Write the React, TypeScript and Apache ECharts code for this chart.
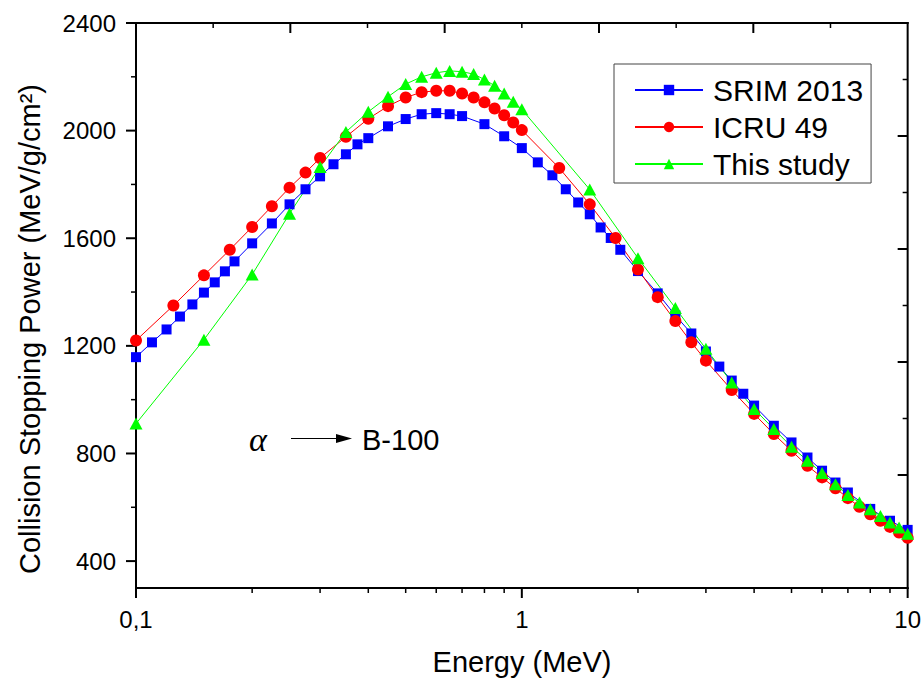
import React, { useEffect, useRef } from 'react';
import * as echarts from 'echarts';

const srimEnergy = [0.1, 0.11, 0.12, 0.13, 0.14, 0.15, 0.16, 0.17, 0.18, 0.2, 0.225, 0.25, 0.275, 0.3, 0.325, 0.35, 0.375, 0.4, 0.45, 0.5, 0.55, 0.6, 0.65, 0.7, 0.8, 0.9, 1.0, 1.1, 1.2, 1.3, 1.4, 1.5, 1.6, 1.7, 1.8, 2.0, 2.25, 2.5, 2.75, 3.0, 3.25, 3.5, 3.75, 4, 4.5, 5, 5.5, 6, 6.5, 7, 8, 9, 10];
const srimPower = [1158, 1213, 1261, 1309, 1354, 1398, 1436, 1477, 1514, 1581, 1655, 1726, 1782, 1830, 1875, 1912, 1949, 1972, 2016, 2043, 2061, 2065, 2061, 2054, 2024, 1979, 1935, 1882, 1834, 1782, 1733, 1689, 1640, 1601, 1557, 1478, 1395, 1313, 1246, 1179, 1123, 1071, 1022, 978, 903, 841, 785, 736, 692, 655, 594, 550, 516];

const icruEnergy = [0.1, 0.125, 0.15, 0.175, 0.2, 0.225, 0.25, 0.275, 0.3, 0.35, 0.4, 0.45, 0.5, 0.55, 0.6, 0.65, 0.7, 0.75, 0.8, 0.85, 0.9, 0.95, 1.0, 1.25, 1.5, 1.75, 2, 2.25, 2.5, 2.75, 3, 3.5, 4, 4.5, 5, 5.5, 6, 6.5, 7, 7.5, 8, 8.5, 9, 9.5, 10];
const icruPower = [1220, 1350, 1462, 1557, 1642, 1719, 1788, 1844, 1898, 1977, 2044, 2091, 2123, 2143, 2148, 2148, 2138, 2123, 2105, 2082, 2057, 2030, 2002, 1861, 1726, 1601, 1484, 1381, 1292, 1213, 1145, 1036, 947, 872, 810, 754, 711, 671, 634, 602, 574, 550, 527, 506, 487];

const studyEnergy = [0.1, 0.15, 0.2, 0.25, 0.3, 0.35, 0.4, 0.45, 0.5, 0.55, 0.6, 0.65, 0.7, 0.75, 0.8, 0.85, 0.9, 0.95, 1.0, 1.5, 2, 2.5, 3, 3.5, 4, 4.5, 5, 5.5, 6, 6.5, 7, 7.5, 8, 8.5, 9, 9.5, 10];
const studyPower = [911, 1223, 1465, 1691, 1865, 1995, 2070, 2126, 2173, 2200, 2215, 2222, 2219, 2210, 2190, 2167, 2138, 2107, 2079, 1781, 1526, 1341, 1189, 1064, 965, 891, 825, 773, 727, 686, 646, 618, 593, 568, 543, 525, 502];

const seriesNames = ['SRIM 2013', 'ICRU 49', 'This study'];
const xMajorTicks = [0.1, 1, 10];
const xMinorTicks = [0.2, 0.3, 0.4, 0.5, 0.6, 0.7, 0.8, 0.9, 2, 3, 4, 5, 6, 7, 8, 9];
const yMajorTicks = [400, 800, 1200, 1600, 2000, 2400];
const yMinorTicks = [600, 1000, 1400, 1800, 2200];
const frameMajorTicks = [2, 4, 6, 8];
const frameMinorTicks = [1, 3, 5, 7, 9];

const FONT = "'Liberation Sans', Arial, sans-serif";
const W = 924, H = 680;
const GRID = { left: 136, right: 15, top: 23, bottom: 92 };

export default function App() {
  const ref = useRef<HTMLDivElement>(null);
  useEffect(() => {
    document.body.style.margin = '0';
    const chart = echarts.init(ref.current!, null, { renderer: 'svg' });
    const pair = (xs: number[], ys: number[]) => xs.map((x, i) => [x, ys[i]]);
    const fmtX = (v: number) => String(Number(Number(v).toPrecision(3))).replace('.', ',');
    const fmtY = (v: number) => String(Math.round(v));
    const off = { show: false };
    chart.setOption({
      animation: false,
      grid: { ...GRID },
      xAxis: [
        {
          type: 'log', logBase: 10, min: 0.1, max: 10, position: 'bottom',
          axisLine: { show: false, onZero: false }, axisTick: off,
          axisLabel: { show: true, customValues: xMajorTicks, formatter: fmtX, color: '#000', fontSize: 24, fontFamily: FONT, margin: 19 },
          splitLine: off, minorTick: off, minorSplitLine: off,
        },
        {
          type: 'value', min: 0, max: 10, position: 'top',
          axisLine: { show: false, onZero: false }, axisTick: off, axisLabel: off, splitLine: off,
        },
      ],
      yAxis: [
        {
          type: 'value', min: 300, max: 2400, position: 'left',
          axisLine: { show: false, onZero: false }, axisTick: off,
          axisLabel: { show: true, customValues: yMajorTicks, formatter: fmtY, color: '#000', fontSize: 24, fontFamily: FONT, margin: 20 },
          splitLine: off,
        },
        {
          type: 'value', min: 0, max: 10, position: 'right',
          axisLine: { show: false, onZero: false }, axisTick: off, axisLabel: off, splitLine: off,
        },
      ],
      legend: {
        data: seriesNames,
        orient: 'vertical',
        left: 614, top: 64,
        padding: [11, 8, 4, 20],
        itemGap: 7,
        itemWidth: 68, itemHeight: 13,
        borderColor: '#444', borderWidth: 1, borderRadius: 0,
        textStyle: { color: '#000', fontSize: 30, fontFamily: FONT, lineHeight: 28, padding: [0, 0, 0, 5] },
      },
      series: [
        {
          type: 'line', name: seriesNames[0], data: pair(srimEnergy, srimPower),
          xAxisIndex: 0, yAxisIndex: 0, symbol: 'rect', symbolSize: 10, showAllSymbol: true,
          color: '#0000ff', lineStyle: { color: '#0000ff', width: 1 }, itemStyle: { color: '#0000ff' },
        },
        {
          type: 'line', name: seriesNames[1], data: pair(icruEnergy, icruPower),
          xAxisIndex: 0, yAxisIndex: 0, symbol: 'circle', symbolSize: 12, showAllSymbol: true,
          color: '#ff0000', lineStyle: { color: '#ff0000', width: 1 }, itemStyle: { color: '#ff0000' },
        },
        {
          type: 'line', name: seriesNames[2], data: pair(studyEnergy, studyPower),
          xAxisIndex: 0, yAxisIndex: 0, symbol: 'triangle', symbolSize: [13, 12], showAllSymbol: true,
          color: '#00ff00', lineStyle: { color: '#00ff00', width: 1 }, itemStyle: { color: '#00ff00' },
        },
      ],
    });

    // Frame and tick marks placed through the chart's own axis scales (with a layout fallback)
    const gl = GRID.left, gr = W - GRID.right, gt = GRID.top, gb = H - GRID.bottom;
    const num = (p: any, fb: number) => {
      const v = Array.isArray(p) ? p[0] : p;
      return typeof v === 'number' && isFinite(v) ? v : fb;
    };
    const numY = (p: any, fb: number) => {
      const v = Array.isArray(p) ? p[1] : p;
      return typeof v === 'number' && isFinite(v) ? v : fb;
    };
    const X = (v: number) => num(chart.convertToPixel({ xAxisIndex: 0 } as any, v), gl + ((Math.log10(v) + 1) / 2) * (gr - gl));
    const Y = (v: number) => numY(chart.convertToPixel({ yAxisIndex: 0 } as any, v), gb - ((v - 300) / 2100) * (gb - gt));
    const XT = (v: number) => num(chart.convertToPixel({ xAxisIndex: 1 } as any, v), gl + (v / 10) * (gr - gl));
    const YR = (v: number) => numY(chart.convertToPixel({ yAxisIndex: 1 } as any, v), gb - (v / 10) * (gb - gt));
    const xl = X(0.1), xr = X(10), yb = Y(300), yt = Y(2400);
    const vbar = (x: number, y1: number, y2: number, w: number) => ({
      type: 'polygon',
      shape: { points: [[x - w / 2, y1], [x + w / 2, y1], [x + w / 2, y2], [x - w / 2, y2]] },
      style: { fill: '#000' },
    });
    const hbar = (y: number, x1: number, x2: number, w: number) => ({
      type: 'polygon',
      shape: { points: [[x1, y - w / 2], [x2, y - w / 2], [x2, y + w / 2], [x1, y + w / 2]] },
      style: { fill: '#000' },
    });
    const marks: any[] = [
      hbar(yb, xl - 1, xr + 1, 2), hbar(yt, xl - 1, xr + 1, 2),
      vbar(xl, yt - 1, yb + 1, 2), vbar(xr, yt - 1, yb + 1, 2),
      ...xMajorTicks.map((v) => vbar(X(v), yb, yb + 10, 2)),
      ...xMinorTicks.map((v) => vbar(X(v), yb, yb + 5, 1.5)),
      ...yMajorTicks.map((v) => hbar(Y(v), xl - 10, xl, 2)),
      ...yMinorTicks.map((v) => hbar(Y(v), xl - 5, xl, 1.5)),
      ...frameMajorTicks.map((v) => vbar(XT(v), yt, yt + 10, 2)),
      ...frameMinorTicks.map((v) => vbar(XT(v), yt, yt + 5, 1.5)),
      ...frameMajorTicks.map((v) => hbar(YR(v), xr - 10, xr, 2)),
      ...frameMinorTicks.map((v) => hbar(YR(v), xr - 5, xr, 1.5)),
    ];

    chart.setOption({
      graphic: [
        ...marks,
        {
          type: 'text', x: 30, y: 329, rotation: Math.PI / 2,
          style: { text: 'Collision Stopping Power (MeV/g/cm²)', fill: '#000', fontSize: 29, fontFamily: FONT, align: 'center', verticalAlign: 'middle' },
        },
        {
          type: 'text', x: 522, y: 662,
          style: { text: 'Energy (MeV)', fill: '#000', fontSize: 29, fontFamily: FONT, align: 'center', verticalAlign: 'middle' },
        },
        {
          type: 'text', x: 258, y: 439,
          style: { text: 'α', fill: '#000', fontSize: 34, fontStyle: 'italic', fontFamily: "'Liberation Serif', 'DejaVu Serif', serif", align: 'center', verticalAlign: 'middle' },
        },
        { type: 'line', shape: { x1: 291, y1: 438.5, x2: 340, y2: 438.5 }, style: { stroke: '#000', lineWidth: 1 } },
        { type: 'polygon', shape: { points: [[352, 438.5], [336, 434], [336, 443]] }, style: { fill: '#000' } },
        {
          type: 'text', x: 362, y: 440,
          style: { text: 'B-100', fill: '#000', fontSize: 29, fontFamily: FONT, align: 'left', verticalAlign: 'middle' },
        },
      ],
    });
    return () => chart.dispose();
  }, []);
  return <div ref={ref} style={{ width: W, height: H }} />;
}
